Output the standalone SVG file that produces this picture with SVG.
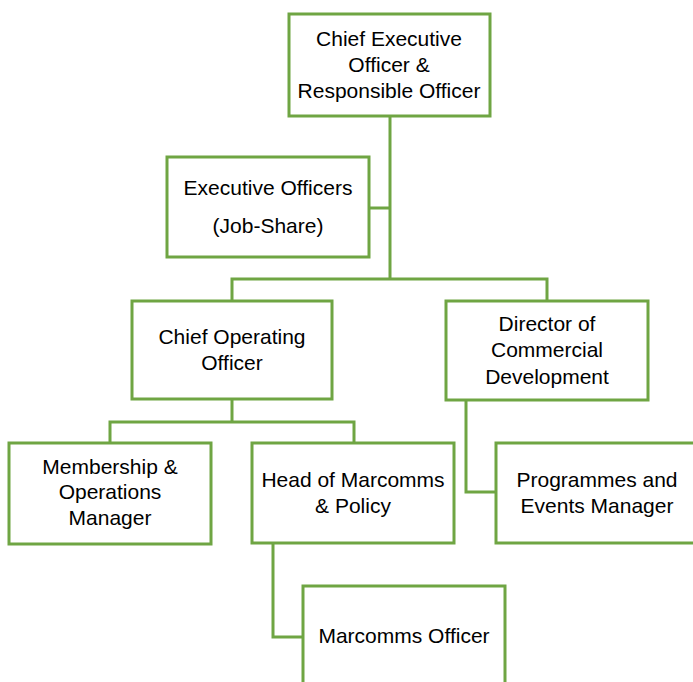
<svg xmlns="http://www.w3.org/2000/svg" width="693" height="682" viewBox="0 0 693 682">
<style>
.box{fill:#fff;stroke:#6FA543;stroke-width:3}
.conn{fill:none;stroke:#6FA543;stroke-width:3}
text{font-family:"Liberation Sans",Arial,sans-serif;font-size:21px;fill:#000;text-anchor:middle}
</style>
<rect width="693" height="682" fill="#fff"/>
<g id="connectors">
<path class="conn" d="M390 116V279"/>
<path class="conn" d="M369 208H390"/>
<path class="conn" d="M232 301V279H547V301"/>
<path class="conn" d="M232 399V422"/>
<path class="conn" d="M110 443V422H354V443"/>
<path class="conn" d="M466 400V492H496"/>
<path class="conn" d="M273 543V637H303"/>
</g>
<g id="ceo">
<rect class="box" x="289" y="14" width="201" height="102"/>
<text x="389" y="46">Chief Executive</text>
<text x="389" y="72">Officer &amp;</text>
<text x="389" y="98">Responsible Officer</text>
</g>
<g id="exec">
<rect class="box" x="167" y="157" width="202" height="100"/>
<text x="268" y="195">Executive Officers</text>
<text x="268" y="233">(Job-Share)</text>
</g>
<g id="coo">
<rect class="box" x="132" y="301" width="200" height="98"/>
<text x="232" y="344">Chief Operating</text>
<text x="232" y="370">Officer</text>
</g>
<g id="director">
<rect class="box" x="446" y="301" width="202" height="99"/>
<text x="547" y="331">Director of</text>
<text x="547" y="357">Commercial</text>
<text x="547" y="384">Development</text>
</g>
<g id="membership">
<rect class="box" x="9" y="443" width="202" height="101"/>
<text x="110" y="474">Membership &amp;</text>
<text x="110" y="499">Operations</text>
<text x="110" y="525">Manager</text>
</g>
<g id="marcomms-head">
<rect class="box" x="252" y="443" width="202" height="100"/>
<text x="353" y="487">Head of Marcomms</text>
<text x="353" y="513">&amp; Policy</text>
</g>
<g id="programmes">
<rect class="box" x="496" y="443" width="210" height="100"/>
<text x="597" y="487">Programmes and</text>
<text x="597" y="513">Events Manager</text>
</g>
<g id="marcomms-officer">
<rect class="box" x="303" y="586" width="202" height="110"/>
<text x="404" y="643">Marcomms Officer</text>
</g>
</svg>
